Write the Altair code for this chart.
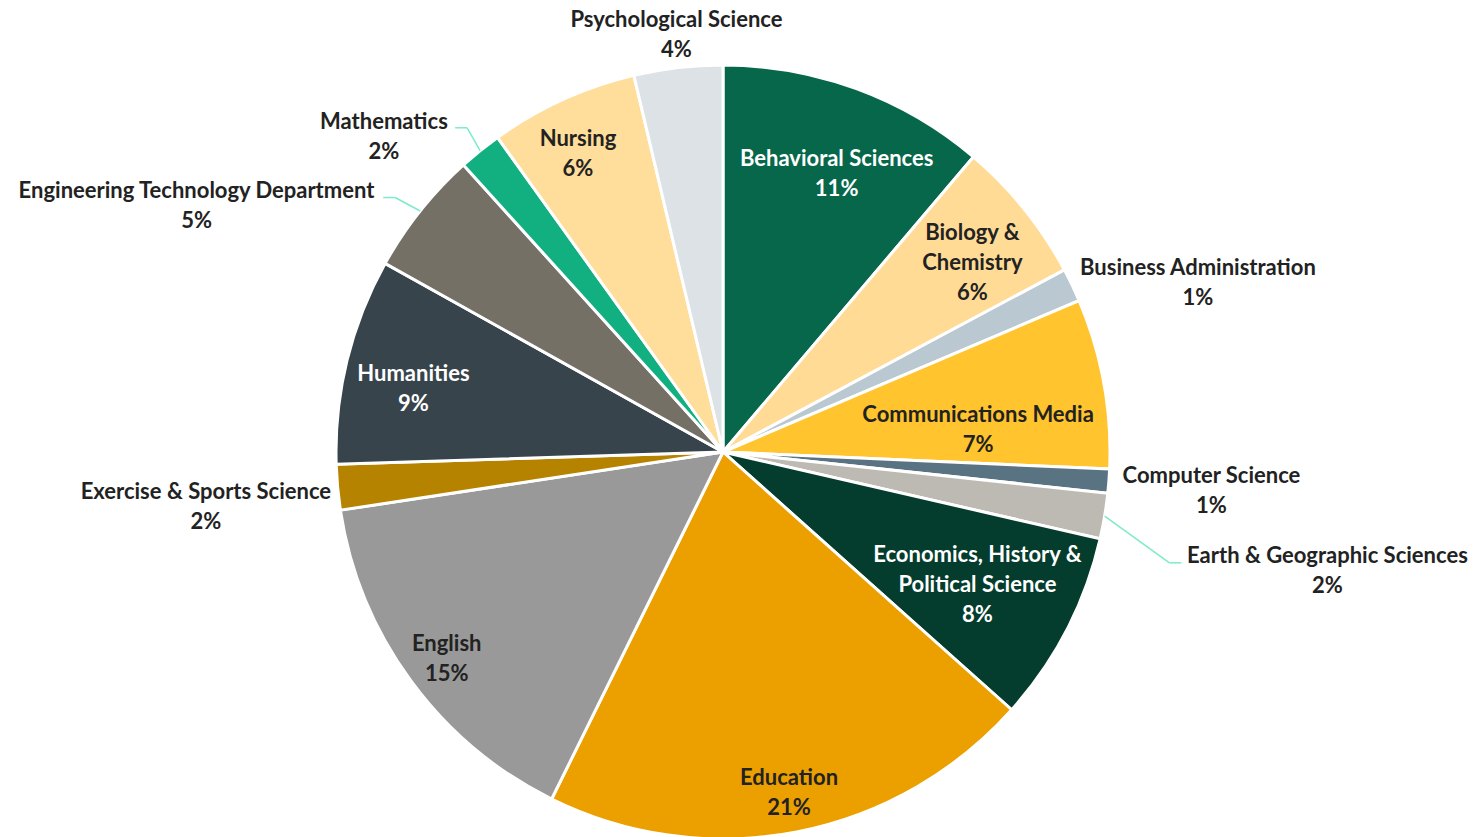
import altair as alt
import pandas as pd

# ---------------- data ----------------
categories = [
    "Behavioral Sciences",
    "Biology & Chemistry",
    "Business Administration",
    "Communications Media",
    "Computer Science",
    "Earth & Geographic Sciences",
    "Economics, History & Political Science",
    "Education",
    "English",
    "Exercise & Sports Science",
    "Humanities",
    "Engineering Technology Department",
    "Mathematics",
    "Nursing",
    "Psychological Science",
]
values = [11.2, 6.0, 1.4, 7.1, 1.0, 1.9, 8.0, 20.7, 15.3, 1.9, 8.6, 5.2, 1.8, 6.2, 3.7]

# ---------------- styles ----------------
colors = [
    "#07674A", "#FFDB96", "#BAC9D1", "#FFC42E", "#5A7383",
    "#BDBAB3", "#043D2D", "#EBA000", "#999999", "#B58300",
    "#37444C", "#757066", "#12B080", "#FFDD9A", "#DDE2E6",
]
label_lines = {
    "Biology & Chemistry": "Biology &|Chemistry",
    "Economics, History & Political Science": "Economics, History &|Political Science",
}
white_text = {"Behavioral Sciences", "Economics, History & Political Science", "Humanities"}
# label placement: (angle nudge from slice middle in degrees, distance from centre in px)
label_place = {
    "Behavioral Sciences": (2.1, 300),
    "Biology & Chemistry": (1.7, 313),
    "Business Administration": (6.0, 504),
    "Communications Media": (5.4, 256),
    "Computer Science": (0.2, 490),
    "Earth & Geographic Sciences": (1.6, 616),
    "Economics, History & Political Science": (0.2, 287),
    "Education": (0.0, 347),
    "English": (-0.6, 345),
    "Exercise & Sports Science": (-0.8, 520),
    "Humanities": (-2.1, 316),
    "Engineering Technology Department": (-13.5, 581),
    "Mathematics": (-8.2, 463),
    "Nursing": (-1.5, 331),
    "Psychological Science": (0.3, 420),
}
# leader lines: (elbow angle nudge deg, elbow radius px, horizontal tail px)
leaders = {
    "Earth & Geographic Sciences": (4.4, 460, 12),
    "Engineering Technology Department": (-0.7, 415, -12),
    "Mathematics": (0.6, 413, -12),
}

R = 387
CX, CY = 715, 444
FONT = "Lato"
FS = 22
LH = 30
TEXT_DARK = "#222222"
LEADER_COLOR = "#7DEBCB"

df = pd.DataFrame({"category": categories, "value": values})
df["idx"] = range(len(df))
df["lines"] = [label_lines.get(c, c) for c in categories]
df["da"] = [label_place[c][0] for c in categories]
df["lr"] = [label_place[c][1] for c in categories]
df["tc"] = ["#FFFFFF" if c in white_text else TEXT_DARK for c in categories]
df["ea"] = [leaders.get(c, (0, 0, 0))[0] for c in categories]
df["er"] = [leaders.get(c, (0, 0, 0))[1] for c in categories]
df["tail"] = [leaders.get(c, (0, 0, 0))[2] for c in categories]

base = alt.Chart(df)

arcs = base.mark_arc(outerRadius=R, stroke="white", strokeWidth=3).encode(
    theta=alt.Theta("value:Q", stack=True),
    order=alt.Order("idx:Q"),
    color=alt.Color("category:N", scale=alt.Scale(domain=categories, range=colors), legend=None),
    x=alt.value(CX),
    y=alt.value(CY),
)

geo = (
    base.transform_joinaggregate(total="sum(value)")
    .transform_window(cum="sum(value)", sort=[alt.SortField("idx")], frame=[None, 0])
    .transform_calculate(mid="(datum.cum - datum.value/2) / datum.total * 2 * PI")
)

labels = (
    geo.transform_calculate(
        a="datum.mid + datum.da * PI / 180",
        label="split(datum.lines + '|' + format(datum.value / datum.total, '.0%'), '|')",
    )
    .transform_calculate(
        tx=f"{CX} + datum.lr * sin(datum.a)",
        ty=f"{CY} - datum.lr * cos(datum.a) - (length(datum.label) - 1) * {LH} / 2",
    )
    .mark_text(font=FONT, fontSize=FS, fontWeight="bold", lineHeight=LH,
               align="center", baseline="middle")
    .encode(
        x=alt.X("tx:Q", scale=None),
        y=alt.Y("ty:Q", scale=None),
        text=alt.Text("label:N"),
        color=alt.Color("tc:N", scale=None),
    )
)

lead_geo = (
    geo.transform_filter("datum.er > 0")
    .transform_calculate(b="datum.mid + datum.ea * PI / 180")
    .transform_calculate(
        sx=f"{CX} + {R} * sin(datum.mid)",
        sy=f"{CY} - {R} * cos(datum.mid)",
        ex=f"{CX} + datum.er * sin(datum.b)",
        ey=f"{CY} - datum.er * cos(datum.b)",
    )
    .transform_calculate(fx="datum.ex + datum.tail")
)
lead1 = lead_geo.mark_rule(color=LEADER_COLOR, strokeWidth=1.5).encode(
    x=alt.X("sx:Q", scale=None), y=alt.Y("sy:Q", scale=None),
    x2="ex:Q", y2="ey:Q",
)
lead2 = lead_geo.mark_rule(color=LEADER_COLOR, strokeWidth=1.5).encode(
    x=alt.X("ex:Q", scale=None), y=alt.Y("ey:Q", scale=None),
    x2="fx:Q",
)

chart = (
    alt.layer(arcs, lead1, lead2, labels)
    .properties(width=1460, height=829, padding=0,
                autosize=alt.AutoSizeParams(type="none"))
    .configure_view(stroke=None)
)

chart.save("out.html", embed_options={"renderer": "svg", "actions": False})
